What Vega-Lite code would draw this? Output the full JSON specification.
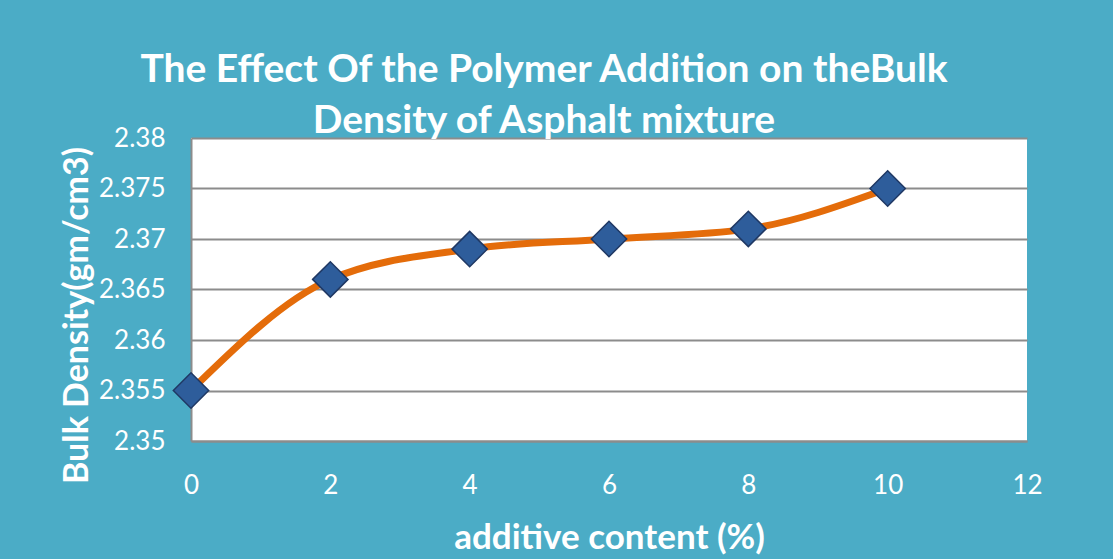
{
  "$schema": "https://vega.github.io/schema/vega-lite/v6.json",
  "width": 836,
  "height": 303,
  "autosize": {"type": "none"},
  "padding": {"left": 191, "top": 138, "right": 86, "bottom": 118},
  "background": "#4BACC6",
  "config": {"view": {"fill": "white", "stroke": null}, "font": "Lato"},
  "title": {
    "text": ["The Effect Of the Polymer Addition on theBulk", "Density of Asphalt mixture"],
    "color": "white",
    "font": "Lato",
    "fontSize": 39,
    "fontWeight": "bold",
    "lineHeight": 51,
    "anchor": "middle",
    "frame": "group",
    "dx": -65,
    "offset": 0,
    "dy": 16
  },
  "data": {
    "values": [
      {"x": 0, "y": 2.355},
      {"x": 2, "y": 2.366},
      {"x": 4, "y": 2.369},
      {"x": 6, "y": 2.370},
      {"x": 8, "y": 2.371},
      {"x": 10, "y": 2.375}
    ]
  },
  "encoding": {
    "x": {
      "field": "x",
      "type": "quantitative",
      "scale": {"domain": [0, 12], "nice": false},
      "axis": {
        "values": [0, 2, 4, 6, 8, 10, 12],
        "grid": false,
        "ticks": false,
        "labelFlush": false,
        "domainColor": "#8C8C8C",
        "domainWidth": 2,
        "labelColor": "white",
        "labelFont": "Lato",
        "labelFontSize": 26,
        "labelPadding": 31,
        "title": "additive content (%)",
        "titleColor": "white",
        "titleFont": "Lato",
        "titleFontSize": 35,
        "titleFontWeight": "bold",
        "titleBaseline": "alphabetic",
        "titleY": 107
      }
    },
    "y": {
      "field": "y",
      "type": "quantitative",
      "scale": {"domain": [2.35, 2.38], "nice": false, "zero": false},
      "axis": {
        "values": [2.35, 2.355, 2.36, 2.365, 2.37, 2.375, 2.38],
        "format": "~g",
        "grid": true,
        "gridColor": "#8C8C8C",
        "gridWidth": 2,
        "ticks": false,
        "labelFlush": false,
        "domainColor": "#8C8C8C",
        "domainWidth": 2,
        "labelColor": "white",
        "labelFont": "Lato",
        "labelFontSize": 26,
        "labelPadding": 26,
        "title": "Bulk Density(gm/cm3)",
        "titleColor": "white",
        "titleFont": "Lato",
        "titleFontSize": 34,
        "titleFontWeight": "bold",
        "titleBaseline": "alphabetic",
        "titleX": -104,
        "titleY": 177
      }
    }
  },
  "layer": [
    {
      "mark": {"type": "line", "interpolate": "monotone", "color": "#E46C0A", "strokeWidth": 7}
    },
    {
      "mark": {
        "type": "point",
        "shape": "diamond",
        "filled": true,
        "size": 1250,
        "fill": "#2E5D9B",
        "stroke": "#1F3864",
        "strokeWidth": 1.5,
        "opacity": 1
      }
    }
  ]
}
